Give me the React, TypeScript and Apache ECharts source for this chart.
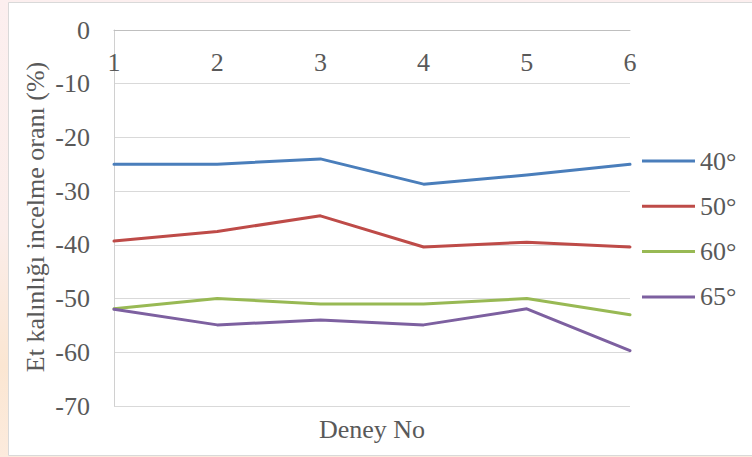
import React, { useEffect, useRef } from "react";
import * as echarts from "echarts";

const categories = ["1", "2", "3", "4", "5", "6"];
const seriesNames = ["40°", "50°", "60°", "65°"];
const s40 = [-25, -25, -24, -28.7, -27, -25];
const s50 = [-39.3, -37.5, -34.6, -40.4, -39.5, -40.4];
const s60 = [-51.9, -50, -51, -51, -50, -53];
const s65 = [-52, -54.9, -54, -54.9, -51.9, -59.7];
const colors = ["#4A7EBB", "#BE4B48", "#98B954", "#7D60A0"];
const yTitle = "Et kalınlığı incelme oranı (%)";
const xTitle = "Deney No";

const FONT = "'Liberation Serif', 'Times New Roman', serif";
const TXT = "#595959";

export default function App() {
  const ref = useRef<HTMLDivElement>(null);
  useEffect(() => {
    if (!ref.current) return;
    const chart = echarts.init(ref.current, null, { renderer: "svg" });
    const data = [s40, s50, s60, s65];
    const ts = { color: TXT, fontSize: 26, fontFamily: FONT };
    chart.setOption({
      animation: false,
      backgroundColor: "transparent",
      textStyle: { fontFamily: FONT },
      grid: { left: 114, right: 122, top: 30, bottom: 51, containLabel: false },
      graphic: [
        {
          type: "rect",
          z: -10,
          shape: { x: 8.5, y: 2.5, width: 760, height: 453 },
          style: { fill: "#ffffff", stroke: "#D9D9D9", lineWidth: 1 },
          silent: true,
        },
        {
          type: "text",
          x: 35,
          y: 217,
          rotation: Math.PI / 2,
          style: {
            text: yTitle,
            fill: TXT,
            font: `26px ${FONT}`,
            align: "center",
            verticalAlign: "middle",
          },
        },
        {
          type: "text",
          x: 372,
          y: 429,
          style: {
            text: xTitle,
            fill: TXT,
            font: `26px ${FONT}`,
            align: "center",
            verticalAlign: "middle",
          },
        },
      ],
      legend: {
        orient: "vertical",
        left: 642,
        top: 148,
        padding: 0,
        itemWidth: 53,
        itemHeight: 3,
        itemGap: 19.3,
        icon: "rect",
        data: seriesNames,
        textStyle: { ...ts },
      },
      xAxis: {
        type: "category",
        position: "top",
        data: categories,
        boundaryGap: false,
        axisLine: { onZero: false, lineStyle: { color: "#BFBFBF", width: 1 } },
        axisTick: { show: false },
        axisLabel: { ...ts, inside: true, margin: 19 },
        splitLine: { show: false },
      },
      yAxis: {
        type: "value",
        min: -70,
        max: 0,
        interval: 10,
        axisLine: { show: true, lineStyle: { color: "#D0D0D0", width: 1 } },
        axisTick: { show: false },
        axisLabel: { ...ts, margin: 24 },
        splitLine: { lineStyle: { color: "#D9D9D9", width: 1 } },
      },
      series: data.map((d, i) => ({
        name: seriesNames[i],
        type: "line",
        data: d,
        symbol: "none",
        itemStyle: { color: colors[i] },
        lineStyle: { color: colors[i], width: 3, cap: "round", join: "round" },
      })),
    });
    return () => chart.dispose();
  }, []);
  return (
    <div
      style={{
        position: "absolute",
        left: 0,
        top: 0,
        width: 752,
        height: 457,
        background: "linear-gradient(180deg, #FCEFEF 0%, #FBEDEA 50%, #FBE6D2 80%, #FCEBDD 100%)",
      }}
    >
      <div ref={ref} style={{ width: 752, height: 457 }} />
    </div>
  );
}
